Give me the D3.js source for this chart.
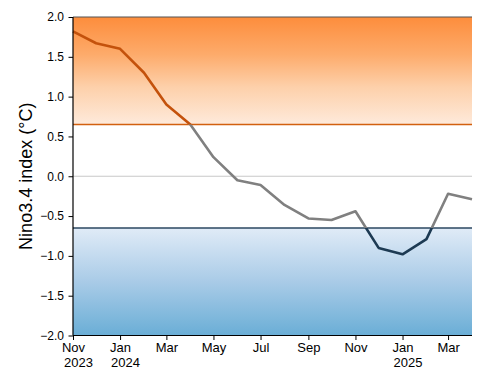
<!DOCTYPE html>
<html><head><meta charset="utf-8">
<script src="https://cdn.jsdelivr.net/npm/d3@7"></script>
<style>body{margin:0;background:#fff}svg{display:block}</style>
</head><body>
<svg id="c" width="501" height="380"></svg>
<script>
const months = ["2023-11","2023-12","2024-01","2024-02","2024-03","2024-04","2024-05","2024-06","2024-07","2024-08","2024-09","2024-10","2024-11","2024-12","2025-01","2025-02","2025-03","2025-04"];
const values = [1.82,1.67,1.60,1.30,0.90,0.65,0.24,-0.05,-0.11,-0.36,-0.53,-0.55,-0.44,-0.90,-0.98,-0.79,-0.22,-0.29];
const thresholds = [0.65,-0.65];
const yTicks = [2.0,1.5,1.0,0.5,0.0,-0.5,-1.0,-1.5,-2.0];
const xTickMonths = ["2023-11","2024-01","2024-03","2024-05","2024-07","2024-09","2024-11","2025-01","2025-03"];

const parse = d3.timeParse("%Y-%m");
const dates = months.map(parse);
const svg = d3.select("#c");
const m = {l:73, r:472, t:17, b:335.5};
const x = d3.scaleTime().domain([dates[0], dates[dates.length-1]]).range([m.l, m.r]);
const y = d3.scaleLinear().domain([-2,2]).range([m.b, m.t]);
const font = "'Liberation Sans', Arial, sans-serif";

const defs = svg.append("defs");
const go = defs.append("linearGradient").attr("id","go").attr("x1",0).attr("x2",0).attr("y1",0).attr("y2",1);
go.append("stop").attr("offset","0%").attr("stop-color","#fd8d3c");
go.append("stop").attr("offset","35%").attr("stop-color","#fdab6b");
go.append("stop").attr("offset","65%").attr("stop-color","#fdd0aa");
go.append("stop").attr("offset","100%").attr("stop-color","#feeadb");
const gb = defs.append("linearGradient").attr("id","gb").attr("x1",0).attr("x2",0).attr("y1",0).attr("y2",1);
gb.append("stop").attr("offset","0%").attr("stop-color","#e0ebf7");
gb.append("stop").attr("offset","50%").attr("stop-color","#a9cbe7");
gb.append("stop").attr("offset","100%").attr("stop-color","#6aaed6");

svg.append("rect").attr("x",m.l).attr("y",y(2)).attr("width",m.r-m.l).attr("height",y(thresholds[0])-y(2)).attr("fill","url(#go)");
svg.append("rect").attr("x",m.l).attr("y",y(thresholds[1])).attr("width",m.r-m.l).attr("height",y(-2)-y(thresholds[1])).attr("fill","url(#gb)");

const clips = [
  {id:"cHi", y0:y(2)-10, y1:y(thresholds[0])},
  {id:"cMid", y0:y(thresholds[0]), y1:y(thresholds[1])},
  {id:"cLo", y0:y(thresholds[1]), y1:y(-2)+10}
];
clips.forEach(c=>{
  defs.append("clipPath").attr("id",c.id).append("rect").attr("x",0).attr("y",c.y0).attr("width",501).attr("height",c.y1-c.y0);
});

svg.append("line").attr("x1",m.l).attr("x2",m.r).attr("y1",y(0)).attr("y2",y(0)).attr("stroke","#c8c8c8").attr("stroke-width",1.2);
svg.append("line").attr("x1",m.l).attr("x2",m.r).attr("y1",y(thresholds[0])).attr("y2",y(thresholds[0])).attr("stroke","#d2600f").attr("stroke-width",1.6);
svg.append("line").attr("x1",m.l).attr("x2",m.r).attr("y1",y(thresholds[1])).attr("y2",y(thresholds[1])).attr("stroke","#2b4760").attr("stroke-width",1.6);

const line = d3.line().x((d,i)=>x(dates[i])).y(d=>y(d));
[["cHi","#c4520c"],["cMid","#808080"],["cLo","#1d3a53"]].forEach(([id,col])=>{
  svg.append("path").datum(values).attr("d",line).attr("fill","none").attr("stroke",col)
    .attr("stroke-width",2.6).attr("stroke-linejoin","round").attr("clip-path",`url(#${id})`);
});

svg.append("line").attr("x1",m.l).attr("x2",m.r).attr("y1",m.t).attr("y2",m.t).attr("stroke","#555").attr("stroke-width",1.2);

const yAxis = d3.axisLeft(y).tickValues(yTicks).tickSize(4.5).tickPadding(4.5).tickFormat(d=>d3.format(".1f")(d).replace("-","\u2212"));
const ya = svg.append("g").attr("transform",`translate(${m.l},0)`).call(yAxis);
ya.select(".domain").attr("stroke","#000").attr("stroke-width",1.2).attr("d",`M0,${m.t}V${m.b}`);
ya.selectAll("text").attr("font-family",font).attr("font-size",12).attr("fill","#000");

const xAxis = d3.axisBottom(x).tickValues(xTickMonths.map(parse)).tickSize(4.5).tickPadding(3).tickFormat(()=> "");
const xa = svg.append("g").attr("transform",`translate(0,${m.b})`).call(xAxis);
xa.select(".domain").attr("stroke","#000").attr("stroke-width",1.2).attr("d",`M${m.l},0H${m.r}`);
const fmtM = d3.timeFormat("%b"), fmtY = d3.timeFormat("%Y");
xa.selectAll(".tick").each(function(d){
  const t = d3.select(this).select("text").attr("font-family",font).attr("font-size",13).attr("fill","#000").text(null);
  t.append("tspan").attr("x",0).attr("dy","0.71em").text(fmtM(d));
  if (d.getMonth()===0 || +d===+dates[0]) t.append("tspan").attr("x",5).attr("dy","1.15em").text(fmtY(d));
});

svg.append("text").attr("transform",`translate(32,${(m.t+m.b)/2}) rotate(-90)`).attr("text-anchor","middle")
  .attr("font-family",font).attr("font-size",18).attr("fill","#000").text("Nino3.4 index (°C)");
</script>
</body></html>
